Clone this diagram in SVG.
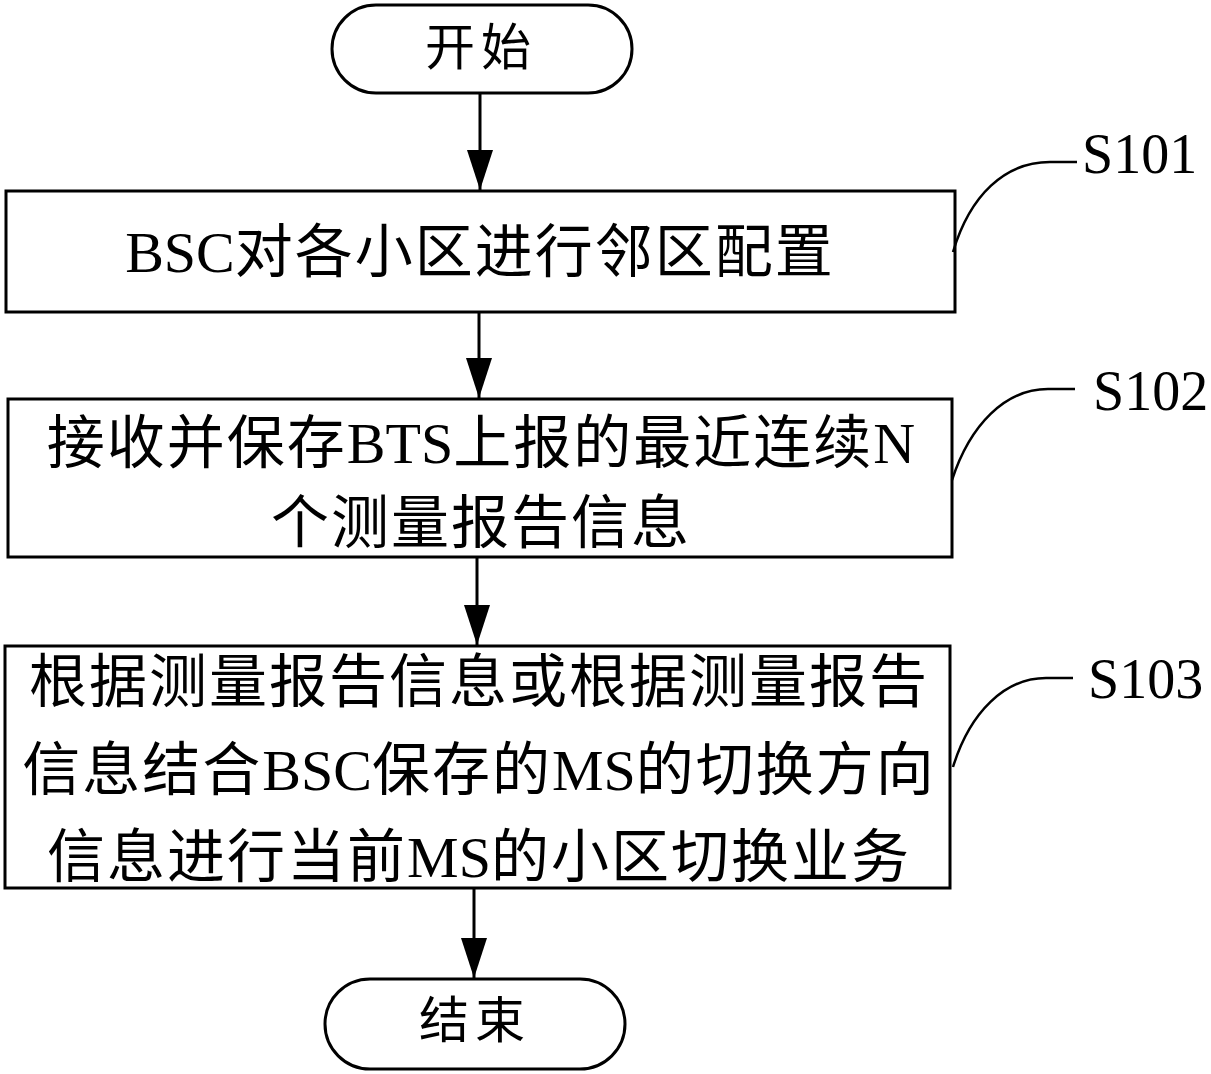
<svg xmlns="http://www.w3.org/2000/svg" width="1211" height="1074" viewBox="0 0 1211 1074">
<style>
.shape{fill:#fff;stroke:#000;stroke-width:3}
.lead{fill:none;stroke:#000;stroke-width:2.5}
.conn{fill:none;stroke:#000;stroke-width:3}
.t{font-family:"Liberation Serif","Noto Sans CJK SC",serif;font-size:58px;fill:#000;text-anchor:middle;dominant-baseline:central;letter-spacing:2px}
.l{letter-spacing:0}
.term{font-family:"Liberation Serif","Noto Sans CJK SC",serif;font-size:50px;fill:#000;text-anchor:middle;dominant-baseline:central;letter-spacing:6px}
.lbl{font-family:"Liberation Serif","Noto Sans CJK SC",serif;font-size:56px;fill:#000}
</style>
<defs>
<marker id="ah" viewBox="0 0 40 26" refX="40" refY="13" markerWidth="40" markerHeight="26" markerUnits="userSpaceOnUse" orient="auto">
<path d="M0,0 L40,13 L0,26 z" fill="#000"/>
</marker>
</defs>
<rect width="1211" height="1074" fill="#fff"/>
<g id="start">
<rect class="shape" x="332" y="5" width="300" height="88" rx="44" ry="44"/>
<text class="term" x="481" y="48">开始</text>
</g>
<g id="s101">
<rect class="shape" x="6" y="191" width="949" height="121"/>
<text class="t" x="480" y="252"><tspan class="l">BSC</tspan>对各小区进行邻区配置</text>
</g>
<g id="s102">
<rect class="shape" x="8" y="399" width="944" height="158"/>
<text class="t" x="481" y="443">接收并保存<tspan class="l">BTS</tspan>上报的最近连续<tspan class="l">N</tspan></text>
<text class="t" x="481" y="523">个测量报告信息</text>
</g>
<g id="s103">
<rect class="shape" x="5" y="646" width="945" height="242"/>
<text class="t" x="479" y="682">根据测量报告信息或根据测量报告</text>
<text class="t" x="479" y="770">信息结合<tspan class="l">BSC</tspan>保存的<tspan class="l">MS</tspan>的切换方向</text>
<text class="t" x="479" y="857">信息进行当前<tspan class="l">MS</tspan>的小区切换业务</text>
</g>
<g id="end">
<rect class="shape" x="325" y="979" width="300" height="90" rx="45" ry="45"/>
<text class="term" x="475" y="1021">结束</text>
</g>
<g id="labels">
<path class="lead" d="M953,252 C970,195 1005,162 1050,162 L1077,162"/>
<text class="lbl" x="1082" y="173">S101</text>
<path class="lead" d="M952,480 C970,425 1005,389 1048,389 L1075,389"/>
<text class="lbl" x="1093" y="410">S102</text>
<path class="lead" d="M953,767 C970,712 1005,678 1046,678 L1073,678"/>
<text class="lbl" x="1088" y="698">S103</text>
</g>
<g id="connectors">
<line class="conn" x1="480" y1="93" x2="480" y2="190" marker-end="url(#ah)"/>
<line class="conn" x1="479" y1="312" x2="479" y2="398" marker-end="url(#ah)"/>
<line class="conn" x1="477" y1="557" x2="477" y2="645" marker-end="url(#ah)"/>
<line class="conn" x1="474" y1="888" x2="474" y2="978" marker-end="url(#ah)"/>
</g>
</svg>
